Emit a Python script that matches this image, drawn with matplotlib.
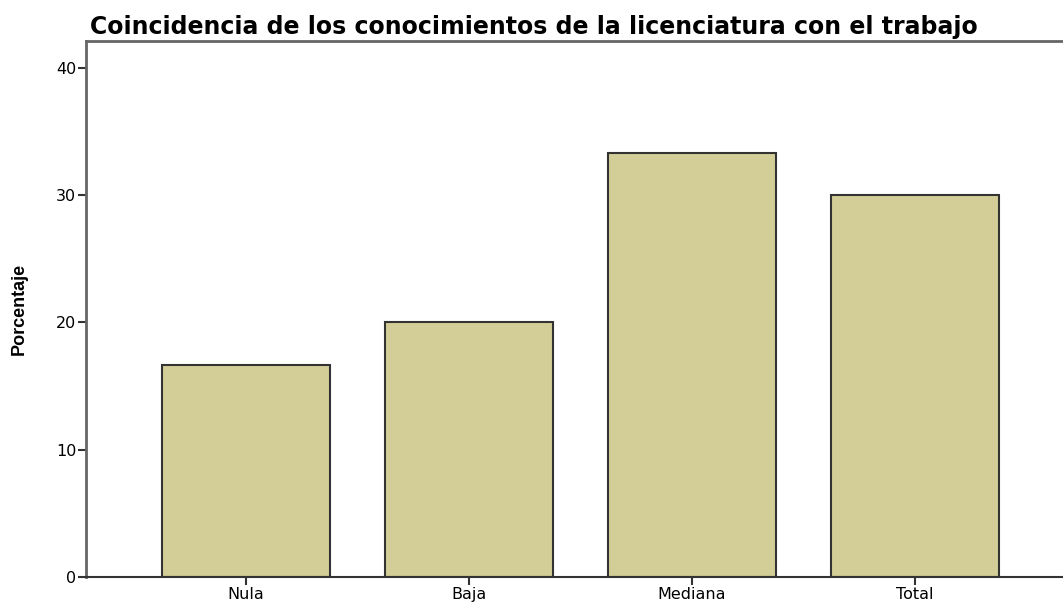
import matplotlib
matplotlib.use('Agg')
import matplotlib.pyplot as plt
from matplotlib import font_manager

categories = ['Nula', 'Baja', 'Mediana', 'Total']
porcentajes = [16.67, 20.0, 33.33, 30.0]
yticks = [0, 10, 20, 30, 40]

names = {f.name for f in font_manager.fontManager.ttflist}
narrow = 'Liberation Sans Narrow' if 'Liberation Sans Narrow' in names else 'Liberation Sans'

plt.rcParams['font.family'] = ['DejaVu Sans']

fig = plt.figure(figsize=(10.63, 6.05), dpi=100)
ax = fig.add_axes([0.0809, 0.0463, 0.9191, 0.8857])

x = range(len(categories))
ax.bar(x, porcentajes, width=0.75, color='#d3ce98', edgecolor='#333333', linewidth=1.5)

ax.set_xlim(-0.717, 3.664)
ax.set_ylim(0, 42.1)
ax.set_yticks(yticks)
ax.set_xticks(list(x))
ax.set_xticklabels(categories, fontsize=11.5)
ax.tick_params(axis='y', labelsize=11.5, length=6, width=1.5, color='#333333', pad=1)
ax.tick_params(axis='x', length=6, width=1.5, color='#333333', pad=1)

for side in ('left', 'top'):
    ax.spines[side].set_color('#666666')
    ax.spines[side].set_linewidth(2)
ax.spines['bottom'].set_color('#333333')
ax.spines['bottom'].set_linewidth(1.5)
ax.spines['right'].set_visible(False)

ax.set_ylabel('Porcentaje', fontsize=13, fontweight='bold', family=[narrow, 'DejaVu Sans'], labelpad=20)
fig.text(0.085, 0.955, 'Coincidencia de los conocimientos de la licenciatura con el trabajo',
         fontsize=17, fontweight='bold', ha='left', va='center')

fig.savefig('out.png', dpi=100)
